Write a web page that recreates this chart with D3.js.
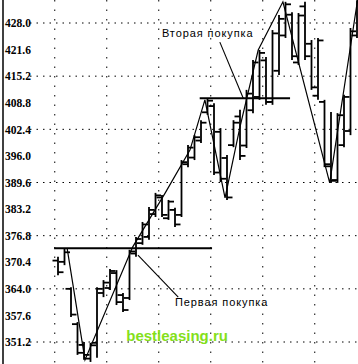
<!DOCTYPE html>
<html><head><meta charset="utf-8">
<script src="https://cdn.jsdelivr.net/npm/d3@7"></script>
<style>html,body{margin:0;padding:0;background:#fff;overflow:hidden}</style>
</head><body><div id="chart"></div>
<script>
// ---- data ----
const yTicks = [428.0, 421.6, 415.2, 408.8, 402.4, 396.0, 389.6, 383.2, 376.8, 370.4, 364.0, 357.6, 351.2];
const gridPrices = [428.0, 415.2, 402.4, 389.6, 376.8, 364.0, 351.2];
const gridIdx = [-0.5, 7.5, 15.5, 23.5, 31.5, 39.5];
const highs = [371.7,373.8,364.4,356.0,351.2,351.0,364.4,366.1,368.8,368.5,363.0,373.4,376.5,380.1,383.7,387.1,386.6,385.4,383.5,395.0,398.6,401.0,404.6,409.9,408.7,402.7,396.2,404.6,407.1,411.9,419.1,421.5,419.8,426.3,429.9,433.1,430.6,430.4,433.1,423.9,424.4,409.5,406.6,406.3,410.7,426.8,433.5];
const lows  = [367.3,369.7,357.2,348.1,346.9,346.4,347.4,362.0,363.7,360.1,358.4,361.3,371.7,374.6,375.8,381.3,381.3,380.6,378.9,381.3,393.3,395.0,399.1,405.9,391.4,389.7,385.4,398.1,395.0,397.9,406.3,409.5,408.3,408.3,415.5,424.4,419.1,417.9,419.1,411.9,409.5,393.3,389.5,389.5,398.1,401.0,424.4];
const opens = [370.8,370.5,364.0,355.5,350.5,347.2,351.0,363.0,364.2,367.8,362.5,361.8,372.5,375.0,376.5,382.0,386.0,381.0,383.0,381.8,394.0,395.6,399.7,406.5,408.0,401.8,395.5,398.6,405.5,398.5,407.0,410.2,419.0,409.0,416.5,425.0,430.0,418.5,432.0,423.0,410.5,409.0,393.5,390.2,398.6,402.0,425.0];
const closes= [368.0,372.8,357.8,348.6,348.1,350.4,364.0,365.5,368.3,360.8,358.9,373.0,376.0,379.5,383.0,386.5,381.8,385.0,379.5,394.5,398.0,400.5,404.0,409.3,392.0,390.5,386.0,404.0,396.0,411.0,418.5,420.8,409.0,425.5,429.0,432.5,420.0,429.8,420.0,412.5,423.8,394.0,390.0,405.8,410.2,426.0,433.0];
const zigIdx = [1.4, 4.15, 11.5, 16.5, 20.3, 22.6, 25.7, 28.0, 30.8, 34.6, 41.8, 46.2];
const zigVal = [373.8, 346.9, 374.1, 387.1, 397.4, 409.5, 385.9, 403.0, 421.5, 433.1, 389.5, 434.7];
const levelVal = [373.8, 409.9];
const levelFrom = [-0.6, 21.8];
const levelTo = [23.7, 35.7];
const labels = ["Первая покупка", "Вторая покупка"];
const labelIdx = [18.0, 16.0];
const labelVal = [359.9, 424.6];
const pointerFrom = [[12.3, 372.1], [24.9, 423.4]];
const pointerTo = [[18.5, 362.0], [28.5, 409.9]];
const watermark = "bestleasing.ru";

// ---- drawing ----
const W = 358, H = 364;
const svg = d3.select("#chart").append("svg").attr("width", W).attr("height", H);
const x = d3.scaleLinear().domain([0, 46]).range([58, 357]);
const y = d3.scaleLinear().domain([351.2, 428]).range([342, 23]);

// grid
svg.append("g").selectAll("line").data(gridPrices).join("line")
  .attr("x1", 30).attr("x2", W).attr("y1", d => y(d)).attr("y2", d => y(d))
  .attr("stroke", "#000").attr("stroke-width", 1).attr("stroke-dasharray", "1.5,5");
svg.append("g").selectAll("line").data(gridIdx).join("line")
  .attr("x1", d => x(d)).attr("x2", d => x(d)).attr("y1", 0).attr("y2", H)
  .attr("stroke", "#000").attr("stroke-width", 1).attr("stroke-dasharray", "1.5,8");

// axis
const axis = d3.axisRight(y).tickValues(yTicks).tickSize(0).tickFormat(d3.format(".1f"));
const ga = svg.append("g").attr("transform", "translate(3,0)").call(axis);
ga.select(".domain").remove();
ga.selectAll("text").attr("x", 2).attr("font-family", "Liberation Sans Narrow")
  .attr("font-weight", "bold").attr("font-size", 11.5).attr("fill", "#000");
svg.append("line").attr("x1", 3).attr("x2", 3).attr("y1", 0).attr("y2", H)
  .attr("stroke", "#000").attr("stroke-width", 1.5);

// bars
const gb = svg.append("g").attr("stroke", "#000").attr("stroke-width", 1.8);
highs.forEach((h, i) => {
  gb.append("line").attr("x1", x(i)).attr("x2", x(i)).attr("y1", y(h)).attr("y2", y(lows[i]));
  gb.append("line").attr("x1", x(i) - 5.5).attr("x2", x(i)).attr("y1", y(opens[i])).attr("y2", y(opens[i]));
  gb.append("line").attr("x1", x(i)).attr("x2", x(i) + 5.5).attr("y1", y(closes[i])).attr("y2", y(closes[i]));
});

// zigzag
svg.append("path").datum(zigIdx.map((d, i) => [d, zigVal[i]]))
  .attr("d", d3.line().x(d => x(d[0])).y(d => y(d[1])))
  .attr("fill", "none").attr("stroke", "#000").attr("stroke-width", 1.2);

// levels
svg.append("g").selectAll("line").data(levelVal).join("line")
  .attr("x1", (d, i) => x(levelFrom[i])).attr("x2", (d, i) => x(levelTo[i]))
  .attr("y1", d => y(d)).attr("y2", d => y(d))
  .attr("stroke", "#000").attr("stroke-width", 2);

// pointers
svg.append("g").selectAll("line").data(pointerFrom).join("line")
  .attr("x1", d => x(d[0])).attr("y1", d => y(d[1]))
  .attr("x2", (d, i) => x(pointerTo[i][0])).attr("y2", (d, i) => y(pointerTo[i][1]))
  .attr("stroke", "#000").attr("stroke-width", 1.1);

// labels
svg.append("g").selectAll("text").data(labels).join("text")
  .attr("x", (d, i) => x(labelIdx[i])).attr("y", (d, i) => y(labelVal[i]))
  .attr("font-family", "Liberation Sans").attr("font-size", 11)
  .attr("letter-spacing", 0.9).attr("fill", "#000").text(d => d);

// watermark
svg.append("text").attr("x", x(10.5)).attr("y", y(351.4))
  .attr("font-family", "Liberation Sans").attr("font-weight", "bold").attr("font-size", 15)
  .attr("fill", "#84e01a").text(watermark);
</script></body></html>
